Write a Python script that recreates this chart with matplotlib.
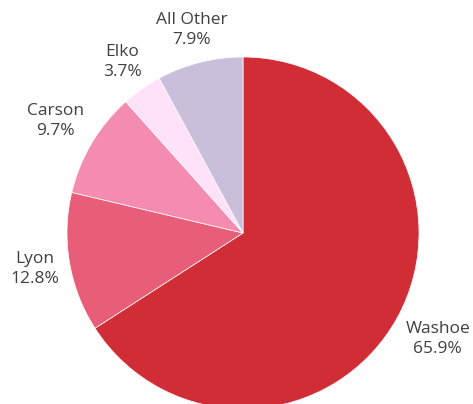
import matplotlib.pyplot as plt
import numpy as np

plt.rcParams['font.family'] = ['Open Sans', 'DejaVu Sans']

counties = ['Washoe', 'Lyon', 'Carson', 'Elko', 'All Other']
shares = [65.9, 12.8, 9.7, 3.7, 7.9]
colors = ['#D12D36', '#E85D78', '#F48BB0', '#FFE1FA', '#C9BFDB']

labels = [f"{c}\n{s:.1f}%" for c, s in zip(counties, shares)]
# label distance from centre (in radii), tuned per slice
label_dist = [1.26, 1.2, 1.24, 1.19, 1.19]

fig = plt.figure(figsize=(4.73, 4.04), dpi=100)
W, H = 473, 404
cx, cy, r = 243, 233, 176
ax = fig.add_axes([(cx - r) / W, (H - cy - r) / H, 2 * r / W, 2 * r / H])

wedges, texts = ax.pie(shares, labels=labels, colors=colors, startangle=90,
                       counterclock=False, labeldistance=1.2,
                       wedgeprops=dict(edgecolor='white', linewidth=0.5),
                       textprops=dict(color='#404040', fontsize=12.5,
                                      ha='center', va='center',
                                      linespacing=1.35))
for w, t, d in zip(wedges, texts, label_dist):
    w.set_clip_on(False)
    ang = np.deg2rad((w.theta1 + w.theta2) / 2)
    t.set_position((d * np.cos(ang), d * np.sin(ang)))
ax.set_xlim(-1, 1)
ax.set_ylim(-1, 1)

fig.savefig('out.png', dpi=100)
